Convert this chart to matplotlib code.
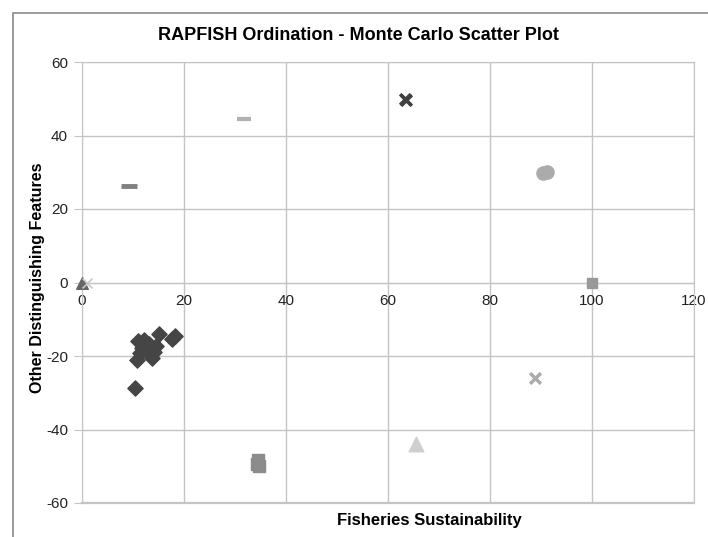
import numpy as np
import matplotlib
matplotlib.use("Agg")
import matplotlib.pyplot as plt
from matplotlib.patches import Rectangle

plt.rcParams["font.family"] = ["Liberation Sans", "DejaVu Sans"]
plt.rcParams["axes.unicode_minus"] = False

# ==========================================================
# DATA
# ==========================================================

# fisheries Monte Carlo cloud (dark diamonds)
fish_x = [11.0, 15.0, 18.2, 10.7, 11.7, 12.7, 13.7, 14.6, 10.4, 12.2, 13.2, 11.4, 14.2, 12.0, 17.6]
fish_y = [-16.0, -14.1, -14.6, -21.0, -17.8, -18.2, -20.5, -17.3, -28.7, -15.6, -16.8, -19.2, -19.0, -17.0, -15.4]

# reference points
good_x, good_y = [100], [0]                 # square
bad_x, bad_y = [0], [0]                     # triangle
bad_star_x, bad_star_y = [0.9], [0]         # asterisk
up_x, up_y = [63.3, 63.6], [50.0, 49.6]     # x marks
down_x, down_y = [34.6, 34.4, 34.7], [-48.3, -49.3, -50.0]
down_x2, down_y2 = [34.5], [-50.0]
anchor_x, anchor_y = [88.8], [-25.9]
dash1_x, dash1_y = [9.2], [26.3]
dash2_x, dash2_y = [31.8], [44.4]
circ_x, circ_y = [90.4, 91.2], [29.9, 30.1]
tri_x, tri_y = [65.5], [-44.0]

xticks = [0, 20, 40, 60, 80, 100, 120]
yticks = [-60, -40, -20, 0, 20, 40, 60]

# ==========================================================
# FIGURE
# ==========================================================

fig = plt.figure(figsize=(7.08, 5.37), dpi=100)
ax = fig.add_axes([82/708, 1-503/537, 612/708, 441/537])

# outer chart frame
fig.patches.append(Rectangle((13/708, -0.1), 1.2, 1 - 13/537 + 0.1,
                             transform=fig.transFigure, fill=False,
                             edgecolor="#8a8a8a", linewidth=1.2, zorder=-1))

ax.scatter(fish_x, fish_y, marker="D", s=60, color="#454545", zorder=3)
ax.scatter(good_x, good_y, marker="s", s=60, color="#999999", zorder=3, clip_on=False)
ax.scatter(bad_x, bad_y, marker="^", s=70, color="#666666", zorder=3, clip_on=False)
ax.scatter(bad_star_x, bad_star_y, marker="x", s=50, color="#c8c8c8", linewidths=1.2,
           zorder=3, clip_on=False)
ax.scatter(up_x, up_y, marker="x", s=60, color="#404040", linewidths=2.5, zorder=3)
ax.scatter(down_x, down_y, marker="s", s=70, color="#8c8c8c", zorder=3)
ax.scatter(down_x2, down_y2, marker="x", s=50, color="#555555", linewidths=2, zorder=2)
ax.scatter(anchor_x, anchor_y, marker="x", s=60, color="#ababab", linewidths=2.5, zorder=3)
ax.scatter(dash1_x, dash1_y, marker="_", s=120, color="#808080", linewidths=3.5, zorder=3)
ax.scatter(dash2_x, dash2_y, marker="_", s=90, color="#b0b0b0", linewidths=3, zorder=3)
ax.scatter(circ_x, circ_y, marker="o", s=110, color="#ababab", linewidths=0, zorder=3)
ax.scatter(tri_x, tri_y, marker="^", s=110, color="#cfcfcf", zorder=3)

ax.set_xlim(0, 120)
ax.set_ylim(-60, 60)
ax.set_xticks(xticks)
ax.set_yticks(yticks)
ax.grid(True, color="#c4c4c4", linewidth=1)
ax.set_axisbelow(True)

for s in ["top", "right", "left"]:
    ax.spines[s].set_color("#c4c4c4")
ax.spines["bottom"].set_position(("data", 0))
ax.spines["bottom"].set_color("#c4c4c4")
# bottom border of plot area
ax.plot([0, 1], [0, 0], transform=ax.transAxes, color="#c4c4c4", linewidth=1.6, clip_on=False)

ax.tick_params(axis="x", length=0, pad=8, labelsize=11, colors="#222222")
ax.tick_params(axis="y", length=6, color="#c4c4c4", pad=4, labelsize=11, labelcolor="#222222")

fig.text(358/708, 1 - 35/537, "RAPFISH Ordination - Monte Carlo Scatter Plot",
         ha="center", va="center", fontsize=13, fontweight="bold")
fig.text(429/708, 1 - 521/537, "Fisheries Sustainability", ha="center", va="center",
         fontsize=12, fontweight="bold")
fig.text(38/708, 1 - 278/537, "Other Distinguishing Features", rotation=90,
         ha="center", va="center", fontsize=11.5, fontweight="bold")

fig.savefig("out.png", dpi=100)
